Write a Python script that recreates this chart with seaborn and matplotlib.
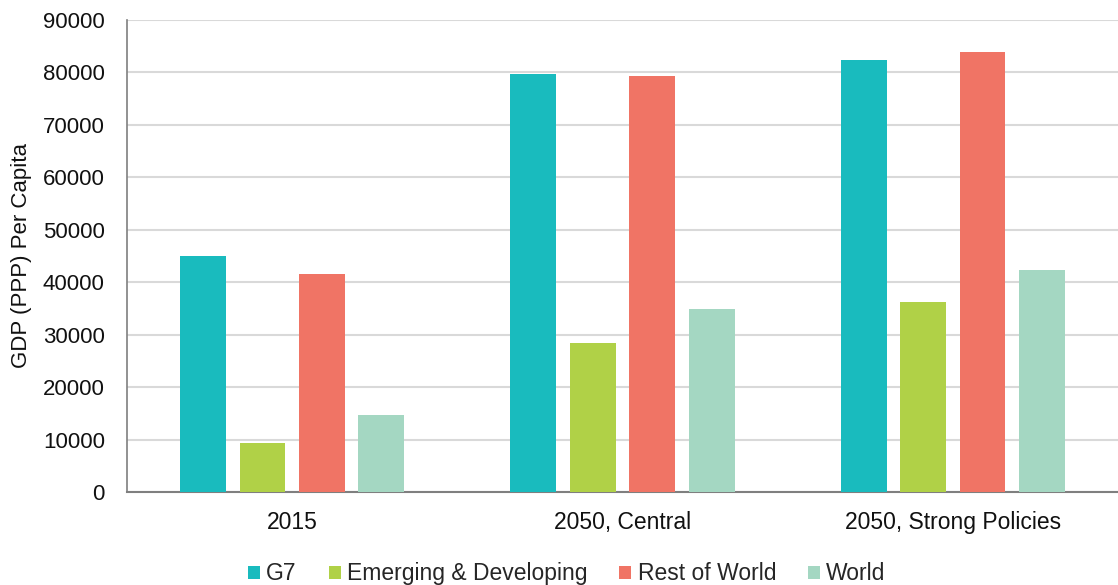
import matplotlib
matplotlib.use("Agg")
import matplotlib.pyplot as plt
import seaborn as sns
import pandas as pd
from matplotlib.patches import Patch

categories = ["2015", "2050, Central", "2050, Strong Policies"]
series = ["G7", "Emerging & Developing", "Rest of World", "World"]
g7 = [44900, 79700, 82300]
emerging = [9400, 28400, 36300]
rest = [41600, 79300, 83800]
world = [14600, 34800, 42300]
colors = ["#19BBBE", "#B0D147", "#F07465", "#A4D7C2"]

rows = []
for s, vals in zip(series, [g7, emerging, rest, world]):
    for c, v in zip(categories, vals):
        rows.append({"cat": c, "series": s, "value": v})
df = pd.DataFrame(rows)

sns.set_theme(style="white")
plt.rcParams['font.family'] = ['Liberation Sans', 'DejaVu Sans']

fig = plt.figure(figsize=(11.18, 5.85), dpi=100)
ax = fig.add_axes([0.1136, 0.159, 0.8864, 0.807])

sns.barplot(data=df, x="cat", y="value", hue="series", order=categories,
            hue_order=series, palette=colors, width=0.72, gap=0.23,
            saturation=1, ax=ax, legend=False, edgecolor="none", zorder=3)

ax.set_xlim(-0.5, 2.5)
ax.set_ylim(0, 90000)
ax.set_yticks(range(0, 90001, 10000))
ax.yaxis.grid(True, color="#D9D9D9", linewidth=1.5, zorder=0)
ax.set_axisbelow(True)
for sp in ["top", "right"]:
    ax.spines[sp].set_visible(False)
ax.spines["left"].set_color("#7F7F7F")
ax.spines["left"].set_linewidth(1.2)
ax.spines["bottom"].set_color("#7F7F7F")
ax.spines["bottom"].set_linewidth(1.5)
ax.tick_params(axis="y", length=0, pad=16, labelsize=16, labelcolor="#111111")
ax.tick_params(axis="x", length=0, pad=14, labelsize=16.5, labelcolor="#111111")
ax.set_xlabel("")
ax.set_ylabel("GDP (PPP) Per Capita", fontsize=16, color="#111111", labelpad=8)

handles = [Patch(facecolor=c, edgecolor="none") for c in colors]
fig.legend(handles, series, loc="center", bbox_to_anchor=(0.507, 0.019), ncol=4,
           frameon=False, fontsize=16.5, handlelength=0.52, handleheight=0.52,
           handletextpad=0.27, columnspacing=1.4)

fig.savefig("out.png", dpi=100)
